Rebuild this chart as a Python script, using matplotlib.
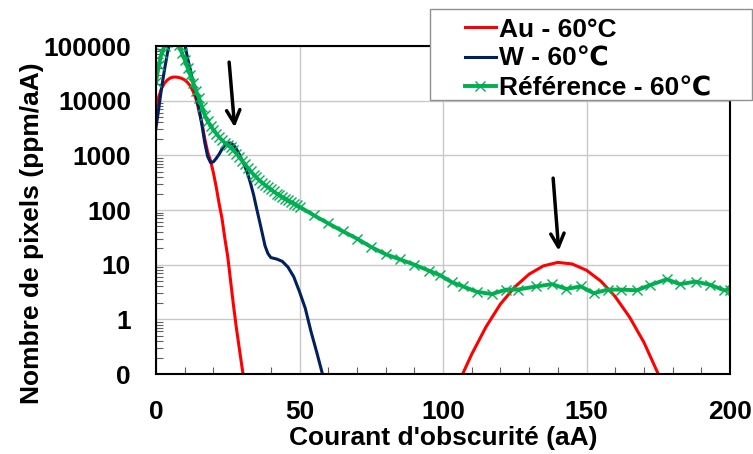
import numpy as np
import matplotlib
matplotlib.use("Agg")
import matplotlib.pyplot as plt
from matplotlib.patches import Rectangle

plt.rcParams['font.family'] = ['Liberation Sans', 'DejaVu Sans']
plt.rcParams['font.weight'] = 'bold'

# Au - 60°C (two pieces, gap where the count is zero)
au_x = [0, 1, 2, 3, 4, 5, 6, 7, 8, 9, 10, 11, 12, 13, 14, 15, 16, 17, 18, 19,
        20, 21, 22, 23, 24, 25, 26, 27, 28, 29, 30, 31,
        np.nan,
        106, 110, 115, 120, 125, 130, 135, 140, 145, 150, 155, 160, 165, 170, 175, 176]
au_y = [7600, 12000, 17000, 21000, 24000, 26000, 27000, 27000, 26500, 25500,
        24000, 21500, 18500, 14500, 10500, 6500, 3900, 2000, 1150, 800,
        480, 260, 130, 70, 30, 14, 5, 1.8, 0.7, 0.3, 0.13, 0.06,
        np.nan,
        0.08, 0.23, 0.73, 1.9, 3.9, 6.7, 9.5, 11, 10.3, 7.9, 5.0, 2.6, 1.1, 0.38, 0.1, 0.08]

# W - 60°C
w_x = [0, 1, 2, 3, 4, 5, 6, 8, 10, 11, 12, 13, 14, 15, 16, 17, 18, 19, 20, 21,
       22, 23, 24, 25, 26, 27, 28, 29, 30, 31, 32, 33, 34, 35, 36, 37, 38, 39,
       40, 42, 44, 46, 48, 50, 52, 54, 56, 58, 59]
w_y = [3200, 7500, 18000, 38000, 75000, 130000, 200000, 250000, 110000, 60000,
       36000, 21000, 12500, 7000, 3600, 1700, 950, 740, 760, 880,
       1050, 1300, 1550, 1680, 1680, 1550, 1300, 1050, 820, 620, 450, 300, 190, 110,
       65, 38, 22, 16, 13.5, 12.7, 11.5, 9, 6, 3.2, 1.6, 0.6, 0.25, 0.1, 0.08]

# Référence - 60°C
ref_x = list(range(0, 51)) + [55, 60, 65, 70, 75, 80, 85, 90, 95, 99, 103, 107,
                              111.7, 117, 122, 126, 132.5, 138, 143, 148, 152.5,
                              157.5, 162, 167.5, 172, 178, 182.5, 188, 193, 198, 200]
ref_y = [22000, 45000, 75000, 100000, 120000, 130000, 130000, 125000, 105000, 75000,
         56000, 40000, 29000, 21000, 15000, 11000, 7800, 5400, 4200, 3500,
         2900, 2500, 2150, 1900, 1700, 1550, 1400, 1230, 1080, 930,
         800, 690, 590, 510, 445, 395, 350, 315, 285, 260,
         238, 218, 200, 186, 173, 161, 150, 140, 131, 122, 115,
         80, 57, 41, 30, 21, 15.5, 12.5, 10, 7.8, 6.4, 4.8, 4.0,
         3.2, 2.9, 3.5, 3.5, 4.0, 4.4, 3.6, 4.0, 3.0,
         3.5, 3.5, 3.4, 4.2, 5.4, 4.4, 4.9, 4.3, 3.4, 3.5]

y_ticks = [0.1, 1, 10, 100, 1000, 10000, 100000]
y_tick_labels = ['0', '1', '10', '100', '1000', '10000', '100000']
x_ticks = [0, 50, 100, 150, 200]

fig = plt.figure(figsize=(7.53, 4.54), dpi=100)
ax = fig.add_axes([156 / 753, 1 - 374 / 454, 574 / 753, 328 / 454])

ax.plot(au_x, au_y, color='#ff0000', lw=2.2, label='Au - 60°C')
ax.plot(w_x, w_y, color='#002060', lw=2.2, label='W - 60℃')
ax.plot(ref_x, ref_y, color='#00b050', lw=2.8, marker='x', ms=7, mew=1.0,
        label='Référence - 60℃')

ax.set_yscale('log')
ax.set_ylim(0.1, 100000)
ax.set_xlim(0, 200)
ax.set_yticks(y_ticks)
ax.set_yticklabels(y_tick_labels)
ax.set_xticks(x_ticks)
ax.set_xticks(range(0, 201, 10), minor=True)

ax.grid(True, which='major', color='#c8c8c8', lw=1)
ax.tick_params(which='both', direction='in', color='#606060', labelsize=19)
ax.tick_params(axis='y', which='major', length=0, pad=18)
ax.tick_params(axis='x', which='major', length=0, pad=19)
ax.tick_params(which='minor', length=5, width=0.8)
for s in ax.spines.values():
    s.set_linewidth(1.5)
    s.set_color('black')

ax.set_xlabel("Courant d'obscurité (aA)", fontsize=19, fontweight='bold')
ax.set_ylabel('Nombre de pixels (ppm/aA)', fontsize=19, fontweight='bold')
ax.xaxis.set_label_coords(0.5, -0.16)
ax.yaxis.set_label_coords(-0.195, 0.43)

ax.annotate('', xy=(27.5, 2900), xytext=(25.4, 57000),
            arrowprops=dict(arrowstyle='->', lw=2.5, color='black', mutation_scale=24))
ax.annotate('', xy=(140.4, 16), xytext=(138.3, 430),
            arrowprops=dict(arrowstyle='->', lw=2.5, color='black', mutation_scale=24))

fig.patches.append(Rectangle((430 / 753, 1 - 100 / 454), 322 / 753, 91 / 454,
                             transform=fig.transFigure, facecolor='white',
                             edgecolor='#909090', lw=1, zorder=5))
leg = fig.legend(loc='upper left', bbox_to_anchor=(462 / 753, 1 - 15 / 454),
                 frameon=False, fontsize=19, handlelength=1.2, handletextpad=0.1,
                 labelspacing=0.2, borderaxespad=0, borderpad=0.1)
for t in leg.get_texts():
    t.set_fontweight('bold')
leg.set_zorder(6)

fig.savefig('out.png', dpi=100)
